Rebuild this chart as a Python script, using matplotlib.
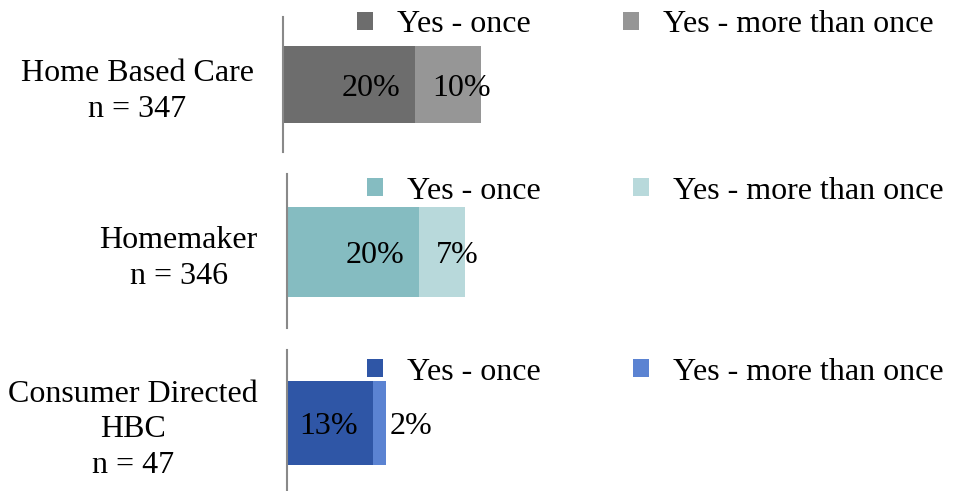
import matplotlib
matplotlib.use("Agg")
import matplotlib.pyplot as plt

# ---- data ----
categories = ["Home Based Care\nn = 347", "Homemaker\nn = 346", "Consumer Directed\nHBC\nn = 47"]
series_names = ["Yes - once", "Yes - more than once"]
yes_once = [20, 20, 13]
yes_more = [10, 7, 2]
value_labels_once = ["20%", "20%", "13%"]
value_labels_more = ["10%", "7%", "2%"]

colors_once = ["#6d6d6d", "#85bcc1", "#2f56a6"]
colors_more = ["#969696", "#b8d9db", "#5b83d2"]

plt.rcParams['font.family'] = ['Liberation Serif', 'DejaVu Serif']
FS = 23

W, H = 962, 491
fig = plt.figure(figsize=(W / 100, H / 100), dpi=100)

# panel geometry in pixels (left, top, bottom, legend centre y, bar top, bar bottom)
panels = [
    (283, 17, 152, 25, 46, 123),
    (287, 174, 328, 191, 207, 297),
    (287, 350, 491, 372, 381, 465),
]
px_per_pct = 6.6
xmax = 100

for i, (lx, top, bot, legy, btop, bbot) in enumerate(panels):
    width_px = xmax * px_per_pct
    ax = fig.add_axes([lx / W, 1 - bot / H, width_px / W, (bot - top) / H])
    ax.set_xlim(0, xmax)
    ax.set_ylim(0, 1)
    ycen = 1 - ((btop + bbot) / 2 - top) / (bot - top)
    bh = (bbot - btop) / (bot - top)
    ax.barh([ycen], [yes_once[i]], height=bh, color=colors_once[i], label=series_names[0])
    ax.barh([ycen], [yes_more[i]], left=[yes_once[i]], height=bh, color=colors_more[i],
            label=series_names[1])
    # value labels
    ax.annotate(value_labels_once[i], xy=(yes_once[i], ycen), xytext=(-15 * 0.72, 0),
                textcoords="offset points", ha="right", va="center_baseline", fontsize=FS)
    ax.annotate(value_labels_more[i], xy=(yes_once[i], ycen), xytext=(17 * 0.72, 0),
                textcoords="offset points", ha="left", va="center_baseline", fontsize=FS)
    for s in ["top", "right", "bottom"]:
        ax.spines[s].set_visible(False)
    ax.spines["left"].set_color("#898989")
    ax.spines["left"].set_linewidth(1.5)
    ax.set_xticks([])
    ax.set_yticks([ycen])
    ax.set_yticklabels([categories[i]], fontsize=FS)
    ax.tick_params(axis="y", length=0, pad=21)
    for lbl in ax.get_yticklabels():
        lbl.set_multialignment("center")
        lbl.set_linespacing(1.3)
    ax.patch.set_alpha(0)
    legx = lx + (357 - 283) if i == 0 else lx + (367 - 287)
    ax.legend(loc="center left", bbox_to_anchor=(legx / W, 1 - legy / H),
              bbox_transform=fig.transFigure, ncol=2, frameon=False, fontsize=FS,
              borderpad=0, borderaxespad=0, handlelength=0.5, handleheight=0.5,
              handletextpad=0.75, columnspacing=2.9)

fig.savefig("out.png", dpi=100)
